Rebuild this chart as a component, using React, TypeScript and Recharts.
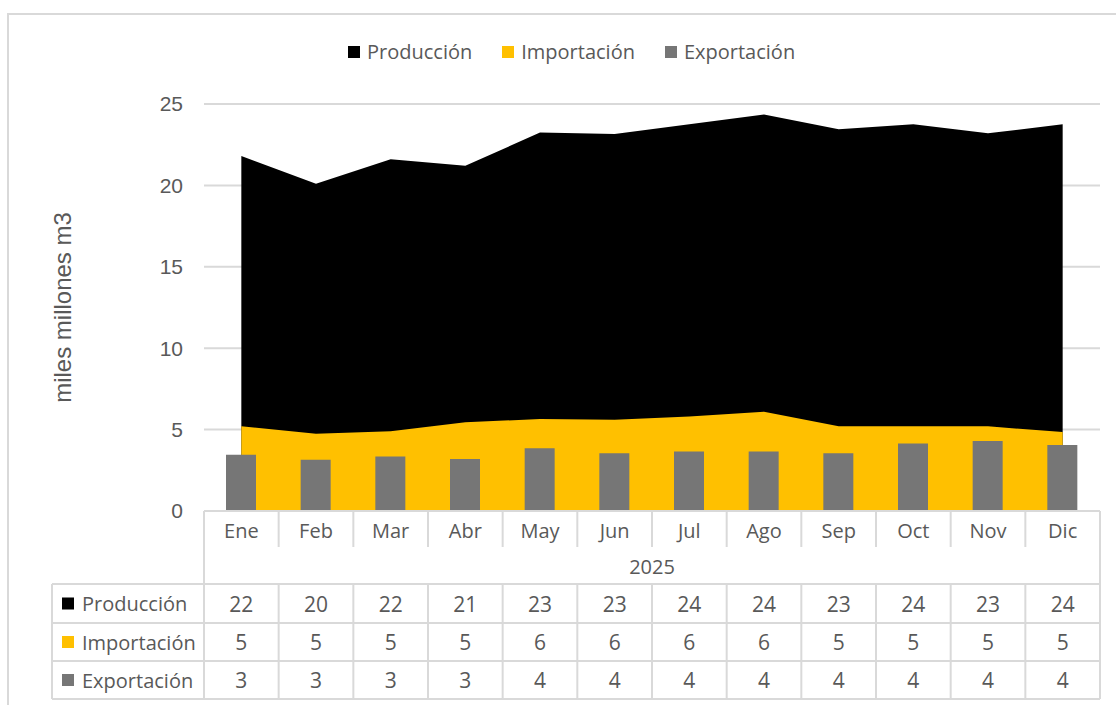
import React from 'react';
import { Area, Bar, CartesianGrid, ComposedChart, XAxis, YAxis } from 'recharts';

const months = ['Ene', 'Feb', 'Mar', 'Abr', 'May', 'Jun', 'Jul', 'Ago', 'Sep', 'Oct', 'Nov', 'Dic'];
const produccion = [21.8, 20.1, 21.6, 21.2, 23.25, 23.15, 23.75, 24.35, 23.45, 23.75, 23.2, 23.75];
const importacion = [5.2, 4.75, 4.9, 5.45, 5.65, 5.6, 5.8, 6.1, 5.2, 5.2, 5.2, 4.85];
const exportacion = [3.45, 3.15, 3.35, 3.2, 3.85, 3.55, 3.65, 3.65, 3.55, 4.15, 4.3, 4.05];
const yTicks = [0, 5, 10, 15, 20, 25];
const year = '2025';

const series = [
  { key: 'produccion', name: 'Producción', color: '#000000', values: produccion },
  { key: 'importacion', name: 'Importación', color: '#FFC000', values: importacion },
  { key: 'exportacion', name: 'Exportación', color: '#767676', values: exportacion },
];

const data = months.map((m, i) => ({
  month: m,
  produccion: produccion[i],
  importacion: importacion[i],
  exportacion: exportacion[i],
}));

const W = 1116;
const H = 705;
const PLOT_L = 204;
const PLOT_R = 1100;
const BAND = (PLOT_R - PLOT_L) / months.length;
const TABLE_L = 52;
const LINE = '#d9d9d9';
const TXT = '#595959';
const FONT = '"Open Sans", "Noto Sans", sans-serif';

function TableTick(props: any) {
  const { x, y, payload } = props;
  const i = payload.index;
  const half = BAND / 2;
  const left = x - half;
  const right = left + BAND * months.length;
  const top = y;
  const rows = [top + 73, top + 112, top + 150, top + 188];
  return (
    <g fontFamily={FONT} fontSize={20} fill={TXT}>
      <text x={x} y={top + 19} textAnchor="middle" dominantBaseline="central">
        {payload.value}
      </text>
      {i > 0 && (
        <>
          <line x1={left} x2={left} y1={top} y2={top + 36} stroke={LINE} strokeWidth={2} />
          <line x1={left} x2={left} y1={rows[0]} y2={rows[3]} stroke={LINE} strokeWidth={2} />
        </>
      )}
      {i === months.length - 1 && (
        <line x1={x + half} x2={x + half} y1={top} y2={rows[3]} stroke={LINE} strokeWidth={2} />
      )}
      {i === 0 && (
        <>
          <line x1={left} x2={left} y1={top} y2={rows[3]} stroke={LINE} strokeWidth={2} />
          <line x1={left} x2={right} y1={top} y2={top} stroke={LINE} strokeWidth={2} />
          {rows.map((ry) => (
            <line key={ry} x1={TABLE_L} x2={right} y1={ry} y2={ry} stroke={LINE} strokeWidth={2} />
          ))}
          <line x1={TABLE_L} x2={TABLE_L} y1={rows[0]} y2={rows[3]} stroke={LINE} strokeWidth={2} />
          <text x={(left + right) / 2} y={top + 55} textAnchor="middle" dominantBaseline="central">
            {year}
          </text>
          {series.map((s, k) => {
            const cy = (rows[k] + rows[k + 1]) / 2;
            return (
              <g key={s.key}>
                <rect x={62} y={cy - 6} width={12} height={12} fill={s.color} />
                <text x={82} y={cy} dominantBaseline="central">
                  {s.name}
                </text>
              </g>
            );
          })}
        </>
      )}
      {series.map((s, k) => (
        <text
          key={s.key}
          x={x}
          y={(rows[k] + rows[k + 1]) / 2}
          textAnchor="middle"
          dominantBaseline="central"
          fontSize={21}
        >
          {Math.round(s.values[i])}
        </text>
      ))}
    </g>
  );
}

function YLabel(props: any) {
  const vb = props.viewBox;
  const cy = vb.y + vb.height / 2;
  return (
    <text
      x={62}
      y={cy}
      transform={`rotate(-90, 62, ${cy})`}
      textAnchor="middle"
      dominantBaseline="central"
      fill={TXT}
      fontSize={24}
      fontFamily='"Liberation Sans", Arial, sans-serif'
    >
      miles millones m3
    </text>
  );
}

export default function App() {
  return (
    <div style={{ position: 'absolute', left: 0, top: 0, width: W, height: H, overflow: 'hidden', background: '#fff' }}>
      <div
        style={{
          position: 'absolute',
          left: 7,
          top: 13,
          width: 1300,
          height: 900,
          border: `2px solid ${LINE}`,
        }}
      />
      <div
        style={{
          position: 'absolute',
          left: 348,
          top: 38,
          display: 'flex',
          alignItems: 'center',
          fontFamily: FONT,
          fontSize: 20,
          color: TXT,
          whiteSpace: 'nowrap',
        }}
      >
        {series.map((s) => (
          <div key={s.key} style={{ display: 'flex', alignItems: 'center', marginRight: 30 }}>
            <span style={{ width: 12, height: 12, background: s.color, marginRight: 7, display: 'inline-block' }} />
            <span>{s.name}</span>
          </div>
        ))}
      </div>
      <div style={{ position: 'absolute', left: 0, top: 0 }}>
        <ComposedChart width={W} height={H} data={data} margin={{ top: 104, right: W - PLOT_R, bottom: 0, left: 0 }} barSize={30}>
          <CartesianGrid vertical={false} stroke={LINE} strokeWidth={2} />
          <YAxis
            domain={[0, 25]}
            ticks={yTicks}
            width={PLOT_L}
            axisLine={false}
            tickLine={false}
            tickSize={0}
            tickMargin={21}
            tick={{ fill: TXT, fontSize: 21, fontFamily: '"Liberation Sans", Arial, sans-serif' }}
            label={<YLabel />}
          />
          <XAxis
            dataKey="month"
            height={194}
            axisLine={false}
            tickLine={false}
            tickSize={0}
            tickMargin={0}
            interval={0}
            tick={<TableTick />}
          />
          <Area dataKey="produccion" type="linear" stroke="none" fill="#000000" fillOpacity={1} isAnimationActive={false} />
          <Area dataKey="importacion" type="linear" stroke="none" fill="#FFC000" fillOpacity={1} isAnimationActive={false} />
          <Bar dataKey="exportacion" fill="#767676" isAnimationActive={false} />
        </ComposedChart>
      </div>
    </div>
  );
}
